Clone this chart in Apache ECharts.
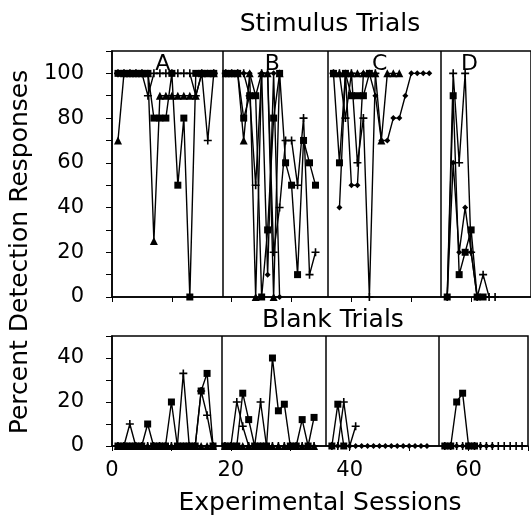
<!DOCTYPE html>
<html>
<head>
<meta charset="utf-8">
<script src="https://cdn.jsdelivr.net/npm/echarts@6/dist/echarts.min.js"></script>
<style>
html, body { margin: 0; padding: 0; background: #fff; }
#chart { width: 531px; height: 523px; }
</style>
</head>
<body>
<div id="chart"></div>
<script>
// phases A-D, breaks between them (sessions)
var phaseNames = ['A', 'B', 'C', 'D']
var phaseLabelX = [8.5, 26.8, 44.7, 59.7]
var phaseBreaks = [18.5, 36, 55]

// stimulus trials, [session, percent]
var stimTriA = [[1,70],[2,100],[3,100],[4,100],[5,100],[6,100],[7,25],[8,90],[9,90],[10,90],[11,90],[12,90],[13,90],[14,90],[15,100],[16,100],[17,100]]
var stimSqA = [[1,100],[2,100],[3,100],[4,100],[5,100],[6,100],[7,80],[8,80],[9,80],[10,100],[11,50],[12,80],[13,0],[14,100],[15,100],[16,100],[17,100]]
var stimPlusA = [[1,100],[2,100],[3,100],[4,100],[5,100],[6,90],[7,100],[8,100],[9,100],[10,100],[11,100],[12,100],[13,100],[14,90],[15,100],[16,70],[17,100]]

var stimTriB = [[19,100],[20,100],[21,100],[22,70],[23,100],[24,0],[25,100],[26,100],[27,0],[28,100]]
var stimSqB = [[19,100],[20,100],[21,100],[22,80],[23,90],[24,90],[25,0],[26,30],[27,80],[28,100],[29,60],[30,50],[31,10],[32,70],[33,60],[34,50]]
var stimPlusB = [[19,100],[20,100],[21,100],[22,100],[23,90],[24,50],[25,100],[26,100],[27,20],[28,40],[29,70],[30,70],[31,50],[32,80],[33,10],[34,20]]
var stimDiaB = [[22,100],[23,100],[24,90],[25,100],[26,10],[27,100],[28,0]]

var stimTriC = [[37,100],[38,100],[39,100],[40,100],[41,100],[42,100],[43,100],[44,100],[45,70],[46,100],[47,100],[48,100]]
var stimSqC = [[37,100],[38,60],[39,100],[40,90],[41,90],[42,90],[43,100]]
var stimPlusC = [[37,100],[38,100],[39,80],[40,100],[41,60],[42,80],[43,0],[44,100]]
var stimDiaC = [[38,40],[39,100],[40,50],[41,50],[42,100],[43,100],[44,90],[45,70],[46,70],[47,80],[48,80],[49,90],[50,100],[51,100],[52,100],[53,100]]

var stimSqD = [[56,0],[57,90],[58,10],[59,20],[60,30],[61,0],[62,0]]
var stimPlusD = [[56,0],[57,100],[58,60],[59,100],[60,20],[61,0],[62,10],[63,0],[64,0]]
var stimDiaD = [[56,0],[57,60],[58,20],[59,40],[60,20],[61,0]]

// blank trials
var blankTriA = [[1,0],[2,0],[3,0],[4,0],[5,0],[6,0],[7,0],[8,0],[9,0],[10,0],[11,0],[12,0],[13,0],[14,0],[15,0],[16,0],[17,0]]
var blankSqA = [[1,0],[2,0],[3,0],[4,0],[5,0],[6,10],[7,0],[8,0],[9,0],[10,20],[11,0],[12,0],[13,0],[14,0],[15,25],[16,33],[17,0]]
var blankPlusA = [[1,0],[2,0],[3,10],[4,0],[5,0],[6,0],[7,0],[8,0],[9,0],[10,0],[11,0],[12,33],[13,0],[14,0],[15,25],[16,14],[17,0]]

var blankTriB = [[19,0],[20,0],[21,0],[22,0],[23,0],[24,0],[25,0],[26,0],[27,0],[28,0],[29,0],[30,0],[31,0],[32,0],[33,0],[34,0]]
var blankSqB = [[19,0],[20,0],[21,0],[22,24],[23,12],[24,0],[25,0],[26,0],[27,40],[28,16],[29,19],[30,0],[31,0],[32,12],[33,0],[34,13]]
var blankPlusB = [[19,0],[20,0],[21,20],[22,9],[23,0],[24,0],[25,20],[26,0],[27,0],[28,0],[29,0],[30,0],[31,0],[32,0],[33,0],[34,0]]

var blankSqC = [[37,0],[38,19],[39,0]]
var blankPlusC = [[37,0],[38,0],[39,20],[40,0],[41,9]]
var blankDiaC = [[37,0],[38,0],[39,0],[40,0],[41,0],[42,0],[43,0],[44,0],[45,0],[46,0],[47,0],[48,0],[49,0],[50,0],[51,0],[52,0],[53,0]]

var blankSqD = [[56,0],[57,0],[58,20],[59,24],[60,0],[61,0]]
var blankPlusD = [[56,0],[57,0],[58,0],[59,0],[60,0],[61,0],[62,0],[63,0],[64,0],[65,0],[66,0],[67,0],[68,0],[69,0]]
var blankDiaD = [[56,0],[57,0],[58,0],[59,0],[60,0],[61,0],[62,0],[63,0],[64,0]]

var FONT = 'DejaVu Sans'
var symbols = {
	tri: 'triangle',
	sq: 'rect',
	plus: 'path://M4,0H6V4H10V6H6V10H4V6H0V4H4Z',
	dia: 'diamond'
}
var sizes = { tri: 8, sq: 7, plus: 8, dia: 6 }

function mk(data, kind, g) {
	return {
		type: 'line',
		xAxisIndex: g,
		yAxisIndex: g,
		data: data,
		symbol: symbols[kind],
		symbolSize: sizes[kind],
		showSymbol: true,
		lineStyle: { color: '#000', width: 1.4 },
		itemStyle: { color: '#000' },
		z: 3
	}
}

function breaks(g) {
	// vertical lines separating the phases
	return {
		type: 'line',
		xAxisIndex: g,
		yAxisIndex: g,
		data: [[0, 0]],
		symbol: 'none',
		lineStyle: { opacity: 0 },
		markLine: {
			silent: true,
			symbol: 'none',
			label: { show: false },
			lineStyle: { color: '#000', type: 'solid', width: 1.5 },
			data: phaseBreaks.map(function (v) { return { xAxis: v } })
		}
	}
}

function xAx(g, labels) {
	return {
		type: 'value', gridIndex: g, min: 0, max: 70, interval: 10,
		axisLine: { lineStyle: { color: '#000', width: 1.5 } },
		axisTick: { show: true, length: 5, lineStyle: { color: '#000' } },
		splitLine: { show: false },
		axisLabel: {
			show: labels, margin: 14, color: '#000', fontSize: 21, fontFamily: FONT,
			formatter: function (v) { return v % 20 === 0 ? v : '' }
		},
		name: labels ? 'Experimental Sessions' : '',
		nameLocation: 'middle',
		nameGap: 45,
		nameTextStyle: { color: '#000', fontSize: 25, fontFamily: FONT }
	}
}

function yAx(g, max) {
	return {
		type: 'value', gridIndex: g, min: 0, max: max, interval: 10,
		axisLine: { lineStyle: { color: '#000', width: 1.5 } },
		axisTick: { show: true, length: 6, lineStyle: { color: '#000' } },
		splitLine: { show: false },
		axisLabel: {
			margin: 28, color: '#000', fontSize: 21, fontFamily: FONT,
			formatter: function (v) { return (v % 20 === 0 && v < max - 5) ? v : '' }
		}
	}
}

var myChart = echarts.init(document.getElementById('chart'))
var option = {
	animation: false,
	backgroundColor: '#fff',
	grid: [
		{ left: 112, top: 51, width: 420, height: 246, show: true, borderColor: '#000', borderWidth: 1.5 },
		{ left: 112, top: 336, width: 420, height: 110, show: true, borderColor: '#000', borderWidth: 1.5 }
	],
	xAxis: [xAx(0, false), xAx(1, true)],
	yAxis: [yAx(0, 110), yAx(1, 50)],
	graphic: [
		{ type: 'text', x: 330, y: 24, style: { text: 'Stimulus Trials', font: '25px ' + FONT, fill: '#000', textAlign: 'center', textVerticalAlign: 'middle' } },
		{ type: 'text', x: 333, y: 320, style: { text: 'Blank Trials', font: '25px ' + FONT, fill: '#000', textAlign: 'center', textVerticalAlign: 'middle' } },
		{ type: 'text', x: 20, y: 252, rotation: Math.PI / 2, style: { text: 'Percent Detection Responses', font: '25px ' + FONT, fill: '#000', textAlign: 'center', textVerticalAlign: 'middle' } }
	],
	series: [
		breaks(0), breaks(1),
		mk(stimTriA, 'tri', 0), mk(stimSqA, 'sq', 0), mk(stimPlusA, 'plus', 0),
		mk(stimTriB, 'tri', 0), mk(stimSqB, 'sq', 0), mk(stimPlusB, 'plus', 0), mk(stimDiaB, 'dia', 0),
		mk(stimTriC, 'tri', 0), mk(stimSqC, 'sq', 0), mk(stimPlusC, 'plus', 0), mk(stimDiaC, 'dia', 0),
		mk(stimSqD, 'sq', 0), mk(stimPlusD, 'plus', 0), mk(stimDiaD, 'dia', 0),
		mk(blankTriA, 'tri', 1), mk(blankSqA, 'sq', 1), mk(blankPlusA, 'plus', 1),
		mk(blankTriB, 'tri', 1), mk(blankSqB, 'sq', 1), mk(blankPlusB, 'plus', 1),
		mk(blankSqC, 'sq', 1), mk(blankPlusC, 'plus', 1), mk(blankDiaC, 'dia', 1),
		mk(blankSqD, 'sq', 1), mk(blankPlusD, 'plus', 1), mk(blankDiaD, 'dia', 1)
	]
}
myChart.setOption(option)

// phase letters, placed through the top grid's scales
var letters = phaseNames.map(function (n, i) {
	var p = myChart.convertToPixel({ gridIndex: 0 }, [phaseLabelX[i], 104])
	return { type: 'text', x: p[0], y: p[1], z: 10, style: { text: n, font: '22px ' + FONT, fill: '#000', textAlign: 'center', textVerticalAlign: 'middle' } }
})
myChart.setOption({ graphic: option.graphic.concat(letters) })
</script>
</body>
</html>
